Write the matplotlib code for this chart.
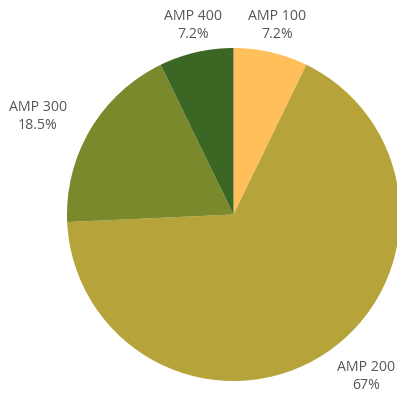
import matplotlib
matplotlib.use("Agg")
import matplotlib.pyplot as plt

categories = ["AMP 100", "AMP 200", "AMP 300", "AMP 400"]
values = [7.2, 67, 18.5, 7.2]
pct_labels = ["7.2%", "67%", "18.5%", "7.2%"]
colors = ["#FFBF5B", "#B6A33A", "#79892C", "#3C6623"]

# label positions in pie-radius units (relative to centre)
label_pos = [(0.26, 1.135), (0.795, -0.975), (-1.175, 0.59), (-0.245, 1.135)]

fig = plt.figure(figsize=(3.97, 3.93), dpi=100)
ax = fig.add_axes([0, 0, 1, 1])
ax.pie(values, colors=colors, startangle=90, counterclock=False,
       radius=1.0, wedgeprops=dict(linewidth=0))
R = 166.5
cx, cy = 233.5, 214.5
ax.set_aspect("auto")
ax.set_xlim(-cx / R, (397 - cx) / R)
ax.set_ylim(-(393 - cy) / R, cy / R)
ax.axis("off")

for cat, p, (x, y) in zip(categories, pct_labels, label_pos):
    ax.text(x, y, f"{cat}\n{p}", ha="center", va="center",
            fontsize=10.2, color="#555555", family=["Open Sans", "DejaVu Sans"],
            linespacing=1.3)

fig.savefig("out.png", dpi=100)
